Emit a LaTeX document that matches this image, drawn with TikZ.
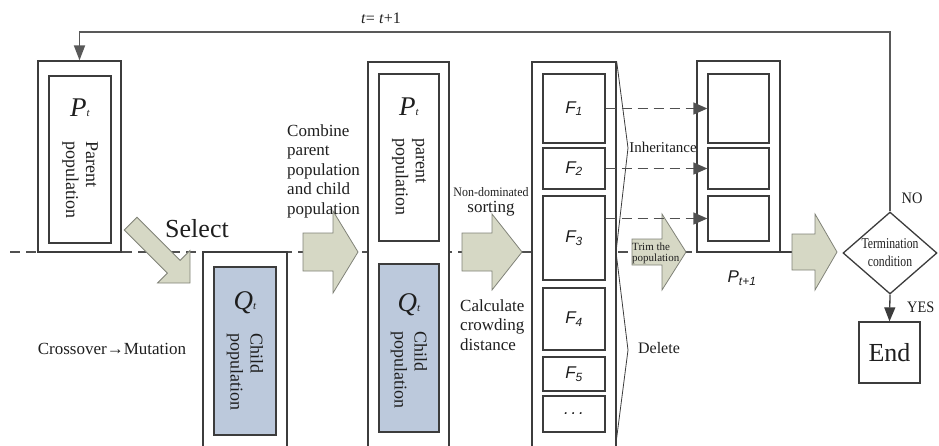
\documentclass[tikz,border=0pt]{standalone}
\usepackage{fontspec}
\setmainfont{Liberation Serif}
\setsansfont{Liberation Sans}
\usepackage{graphicx}
\usetikzlibrary{arrows.meta, shapes.geometric}
\definecolor{linecol}{RGB}{60,60,60}
\definecolor{arrowfill}{RGB}{214,216,197}
\definecolor{arrowline}{RGB}{128,130,120}
\definecolor{qblue}{RGB}{188,201,220}
\definecolor{textcol}{RGB}{30,30,30}

\begin{document}
\begin{tikzpicture}[x=1pt, y=-1pt,
    box/.style={draw=linecol, line width=1.3pt, fill=white, inner sep=0pt},
    qbox/.style={box, fill=qblue},
    blockarrow/.style={draw=arrowline, line width=0.8pt, fill=arrowfill},
    dashline/.style={draw=linecol!90, line width=1.5pt, dash pattern=on 10pt off 6pt},
    dasharrow/.style={dashline, -{Triangle[length=14pt, width=12pt]}},
    flowline/.style={draw=linecol, line width=1.3pt},
    lbl/.style={text=textcol, inner sep=0pt, font=\fontsize{17}{19.5}\selectfont},
    vlbl/.style={lbl, rotate=-90, align=left, font=\fontsize{18}{20}\selectfont},
    plbl/.style={lbl, font=\fontsize{27}{27}\selectfont\itshape},
    flbl/.style={text=textcol, font=\sffamily\itshape\fontsize{17}{17}\selectfont}
]
    % Page
    \useasboundingbox (0,0) rectangle (939,445);
    \clip (0,0) rectangle (939,445);

    % Dashed level line
    \coordinate (dstart) at (10,252);
    \coordinate (dend) at (697,252);
    \draw[dashline] (dstart) -- (dend);

    % Parent population P_t
    \node[box, minimum width=83, minimum height=191] (Pto) at (79.5,156.5) {};
    \node[box, minimum width=62, minimum height=167] (Pti) at (80,159.5) {};
    \node[plbl] (PtL) at (80,108) {P{\fontsize{11}{11}\selectfont t}};
    \node[vlbl] (PtT) at (80,180) {Parent\\population};

    % Child population Q_t
    \node[box, minimum width=84, minimum height=208] (Qto) at (245,356) {};
    \node[qbox, minimum width=62, minimum height=168] (Qti) at (245,351) {};
    \node[plbl] (QtL) at (245,303) {Q{\fontsize{11}{11}\selectfont t}};
    \node[vlbl] (QtT) at (245,372) {Child\\population};

    % Combined population
    \node[box, minimum width=81, minimum height=398] (Mo) at (408.5,261) {};
    \node[box, minimum width=60, minimum height=167] (MPi) at (409,157.5) {};
    \node[qbox, minimum width=60, minimum height=168] (MQi) at (409,348) {};
    \node[plbl] (MPL) at (409,107) {P{\fontsize{11}{11}\selectfont t}};
    \node[vlbl] (MPT) at (409,177) {parent\\population};
    \node[plbl] (MQL) at (409,305) {Q{\fontsize{11}{11}\selectfont t}};
    \node[vlbl] (MQT) at (409,370) {Child\\population};

    % Fronts F_1 ... F_5
    \node[box, minimum width=84, minimum height=398] (Fo) at (574,261) {};
    \foreach \i/\yc/\h in {1/108.5/69, 2/168.5/41, 3/238/84, 4/319/62, 5/374/34}{
        \node[box, flbl, minimum width=62, minimum height=\h] (F\i) at (574,\yc) {F\textsubscript{\i}};
    }
    \node[box, flbl, minimum width=62, minimum height=36] (F6) at (574,414) {.\,.\,.};
    \draw[linecol, line width=0.8pt] (Fo.north east) -- (628,148) -- (616,252) -- (628,350) -- (616,443);

    % Next population P_{t+1}
    \draw[flowline] (dend) -- (792,252);
    \node[box, minimum width=83, minimum height=191] (Pno) at (738.5,156.5) {};
    \node[box, minimum width=61, minimum height=69] (Pn1) at (738.5,108.5) {};
    \node[box, minimum width=61, minimum height=41] (Pn2) at (738.5,168.5) {};
    \node[box, minimum width=61, minimum height=45] (Pn3) at (738.5,218.5) {};
    \node[flbl] (PnL) at (742,278) {P\textsubscript{t+1}};

    % Block arrows
    \begin{scope}[shift={(190,283)}, rotate=-45]
        \draw[blockarrow] (-84,-9) -- (-23,-9) -- (-23,-23) -- (0,0) -- (-23,23) -- (-23,9) -- (-84,9) -- cycle;
    \end{scope}
    \foreach \xa/\xb/\xc/\hs/\hh in {303/333/358/19/41, 462/492/522/19/38, 632/662/686/13/38, 792/815/837/18/38}{
        \draw[blockarrow] (\xa,{252-\hs}) -- (\xb,{252-\hs}) -- (\xb,{252-\hh}) -- (\xc,252)
            -- (\xb,{252+\hh}) -- (\xb,{252+\hs}) -- (\xa,{252+\hs}) -- cycle;
    }

    % Inheritance
    \draw[dasharrow] (F1.east) -- (Pn1.west);
    \draw[dasharrow] (F2.east) -- (Pn2.west);
    \draw[dasharrow] (F3.east |- Pn3.west) -- (Pn3.west);

    % Texts
    \node[lbl, font=\fontsize{26}{26}\selectfont] (sel) at (197,229) {Select};
    \node[lbl] (cm) at (112,349) {Crossover→Mutation};
    \node[lbl, align=left, anchor=north west] (comb) at (287,124) {Combine\\parent\\population\\and child\\population};
    \node[lbl, anchor=base, font=\fontsize{13}{13}\selectfont] (nd) at (491,196) {\scalebox{0.92}[1]{Non-dominated}};
    \node[lbl, anchor=base] (srt) at (491,212) {sorting};
    \node[lbl, align=left, anchor=north west] (ccd) at (460,299) {Calculate\\crowding\\distance};
    \node[lbl, font=\fontsize{15}{15}\selectfont] (inh) at (663,147) {Inheritance};
    \node[lbl, font=\fontsize{16}{16}\selectfont] (del) at (659,348) {Delete};
    \node[lbl, align=left, anchor=west, font=\fontsize{11}{11}\selectfont] (trim) at (632,253) {Trim the\\population};

    % Termination
    \node[draw=linecol, line width=1.3pt, fill=white, diamond, aspect=1.15, minimum width=94, minimum height=82,
        inner sep=0pt, text=textcol, align=center, font=\fontsize{15}{18}\selectfont] (cond) at (890,253)
        {\scalebox{0.78}[1]{Termination}\\\scalebox{0.78}[1]{condition}};
    \node[box, text=textcol, minimum width=61, minimum height=61, font=\fontsize{26}{26}\selectfont] (endbox) at (889.5,352.5) {End};
    \node[lbl, font=\fontsize{16}{16}\selectfont] (no) at (912,198) {\scalebox{0.9}[1]{NO}};
    \node[lbl, anchor=west, font=\fontsize{16}{16}\selectfont] (yes) at (907,307) {\scalebox{0.9}[1]{YES}};
    \draw[flowline, -{Triangle[length=14pt, width=11pt]}] (cond.south) -- (endbox.north);

    % Loop back
    \coordinate (top) at (0,32);
    \draw[flowline, draw=linecol!85, line width=1.8pt, -{Triangle[length=15pt, width=11pt]}] (cond.north) -- (cond.north |- top) -| (Pto.north);
    \node[lbl, font=\fontsize{16}{16}\selectfont] (tinc) at (381,18) {\textit{t}= \textit{t}+1};
\end{tikzpicture}
\end{document}
